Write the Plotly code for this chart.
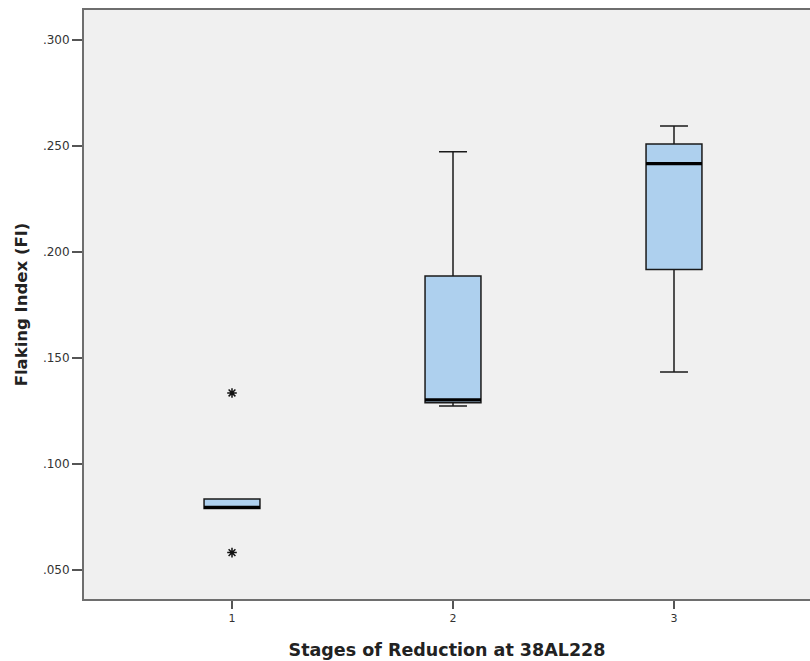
import plotly.graph_objects as go

stages = [1, 2, 3]
stage_labels = ["1", "2", "3"]
lower_whisker = [0.0790, 0.1274, 0.1434]
q1 = [0.0790, 0.1289, 0.1918]
median = [0.0795, 0.1302, 0.2417]
q3 = [0.0835, 0.1887, 0.2509]
upper_whisker = [0.0835, 0.2473, 0.2594]

outlier_stage = [1, 1]
outlier_value = [0.1335, 0.0582]

y_ticks = [0.050, 0.100, 0.150, 0.200, 0.250, 0.300]
y_tick_labels = [".050", ".100", ".150", ".200", ".250", ".300"]

box_width = 0.253
fill = "#aed0ee"

fig = go.Figure()
fig.add_trace(go.Box(
    x=stages, q1=q1, median=median, q3=q3,
    lowerfence=lower_whisker, upperfence=upper_whisker,
    width=box_width, whiskerwidth=0.5,
    fillcolor=fill, line=dict(color="#1a1a1a", width=1.5),
    boxpoints=False, showlegend=False, hoverinfo="skip",
))

# thick median lines
mx, my = [], []
for s, m in zip(stages, median):
    mx += [s - box_width / 2, s + box_width / 2, None]
    my += [m, m, None]
fig.add_trace(go.Scatter(x=mx, y=my, mode="lines",
                         line=dict(color="#000000", width=3.2),
                         showlegend=False, hoverinfo="skip"))

fig.add_trace(go.Scatter(x=outlier_stage, y=outlier_value, mode="markers",
                         marker=dict(symbol="asterisk-open", size=8, color="#111111",
                                     line=dict(color="#111111", width=1.5)),
                         showlegend=False, hoverinfo="skip"))

fig.update_layout(
    width=810, height=661,
    margin=dict(l=84, r=0, t=10, b=62),
    paper_bgcolor="white", plot_bgcolor="#f0f0f0",
    font=dict(family="DejaVu Sans", color="#333333"),
    xaxis=dict(
        range=[0.3303, 3.6154], tickvals=stages, ticktext=stage_labels,
        showgrid=False, zeroline=False,
        showline=True, linecolor="#6e6e6e", linewidth=2, mirror=True,
        ticks="outside", ticklen=8, tickwidth=1.5, tickcolor="#555555",
        tickfont=dict(size=11, color="#333333"),
        title=dict(text="<b>Stages of Reduction at 38AL228</b>",
                   font=dict(size=17.5, color="#222222"), standoff=20),
    ),
    yaxis=dict(
        range=[0.03632, 0.31415], tickvals=y_ticks, ticktext=y_tick_labels,
        showgrid=False, zeroline=False, mirror=False,
        showline=True, linecolor="#6e6e6e", linewidth=2,
        ticks="outside", ticklen=10, tickwidth=1.5, tickcolor="#555555",
        tickfont=dict(size=12, color="#333333"),
        title=dict(text="<b>Flaking Index (FI)</b>",
                   font=dict(size=16.5, color="#222222"), standoff=11),
    ),
)

fig.write_html("out.html", config={"displayModeBar": False},
               post_script="document.body.style.margin='0';document.body.style.overflow='hidden';")
